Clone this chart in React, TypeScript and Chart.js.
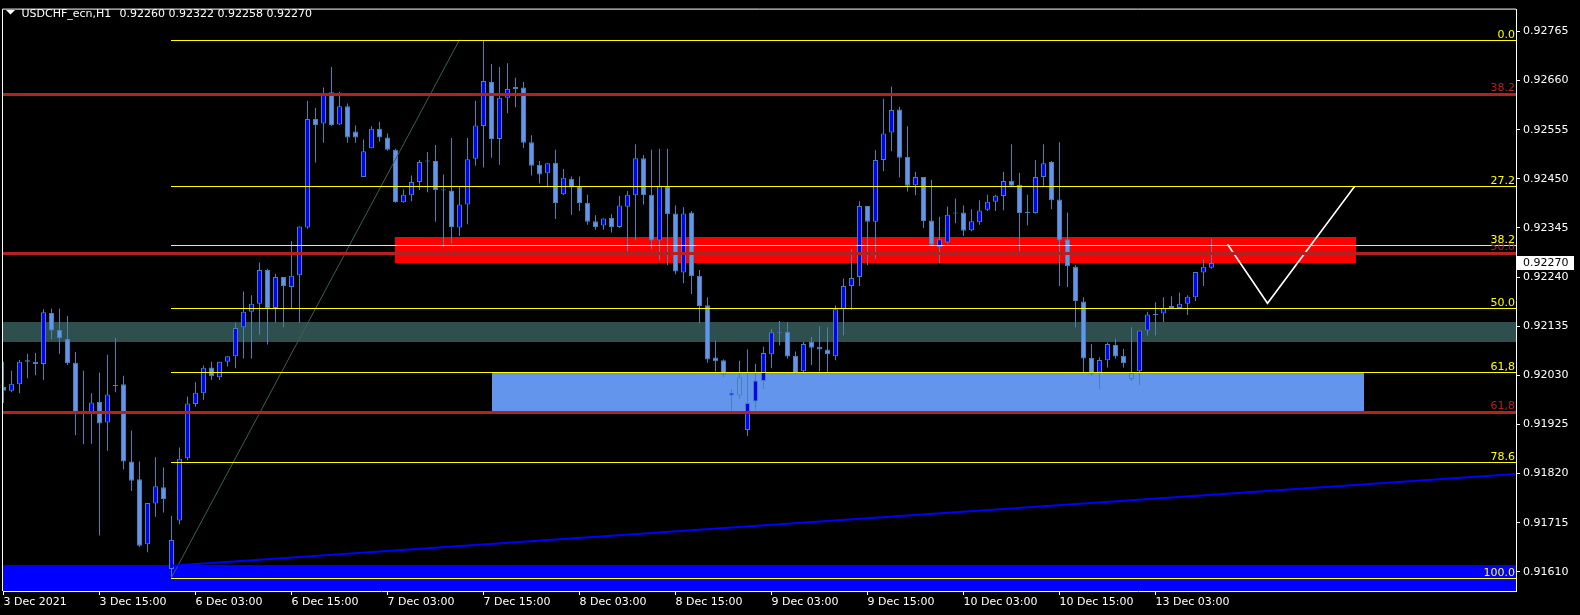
import React, { useEffect, useRef } from "react";
import { Chart, registerables } from "chart.js";

Chart.register(...registerables);

// ---------------- data ----------------
const SYMBOL = "USDCHF_ecn,H1";

const OPEN = [0.92005,0.91997,0.92011,0.92062,0.92059,0.92054,0.92163,0.92127,0.92108,0.92057,
0.91948,0.91948,0.91973,0.91929,0.92009,0.92011,0.91846,0.91808,0.91669,0.91756,
0.91791,0.91616,0.91720,0.91853,0.91969,0.91992,0.92047,0.92026,0.92059,0.92071,
0.92133,0.92166,0.92183,0.92255,0.92174,0.92240,0.92219,0.92244,0.92346,0.92578,
0.92568,0.92635,0.92566,0.92605,0.92551,0.92454,0.92515,0.92557,0.92538,0.92512,
0.92400,0.92415,0.92443,0.92488,0.92488,0.92426,0.92425,0.92346,0.92395,0.92493,
0.92563,0.92657,0.92535,0.92623,0.92642,0.92645,0.92528,0.92480,0.92462,0.92484,
0.92417,0.92450,0.92434,0.92399,0.92359,0.92350,0.92366,0.92347,0.92390,0.92415,
0.92494,0.92416,0.92318,0.92434,0.92376,0.92250,0.92378,0.92243,0.92180,0.92068,
0.92062,0.91987,0.92026,0.91913,0.91974,0.92018,0.92075,0.92121,0.92123,0.92072,
0.92039,0.92102,0.92091,0.92085,0.92071,0.92171,0.92221,0.92240,0.92392,0.92358,
0.92490,0.92549,0.92598,0.92497,0.92436,0.92454,0.92361,0.92304,0.92314,0.92378,
0.92378,0.92340,0.92357,0.92384,0.92401,0.92413,0.92446,0.92437,0.92378,0.92377,
0.92454,0.92486,0.92406,0.92321,0.92262,0.92188,0.92067,0.92036,0.92062,0.92095,
0.92072,0.92035,0.92039,0.92126,0.92161,0.92162,0.92178,0.92174,0.92183,0.92197,
0.92250,0.92260];

const HIGH = [0.92059,0.92040,0.92063,0.92076,0.92078,0.92171,0.92173,0.92173,0.92157,0.92080,
0.92040,0.91992,0.92036,0.92074,0.92110,0.92029,0.91912,0.91846,0.91757,0.91855,
0.91833,0.91730,0.91876,0.91985,0.92015,0.92051,0.92059,0.92059,0.92071,0.92142,
0.92209,0.92201,0.92271,0.92258,0.92247,0.92240,0.92317,0.92348,0.92617,0.92602,
0.92645,0.92689,0.92636,0.92611,0.92564,0.92534,0.92562,0.92572,0.92547,0.92514,
0.92427,0.92457,0.92490,0.92507,0.92522,0.92459,0.92537,0.92433,0.92537,0.92617,
0.92746,0.92695,0.92689,0.92697,0.92666,0.92657,0.92543,0.92488,0.92483,0.92512,
0.92471,0.92455,0.92455,0.92416,0.92372,0.92365,0.92374,0.92413,0.92424,0.92524,
0.92501,0.92512,0.92514,0.92514,0.92393,0.92389,0.92381,0.92255,0.92197,0.92104,
0.92064,0.92001,0.92061,0.92085,0.92055,0.92091,0.92129,0.92146,0.92144,0.92081,
0.92101,0.92112,0.92135,0.92133,0.92179,0.92237,0.92300,0.92402,0.92392,0.92511,
0.92621,0.92647,0.92604,0.92562,0.92465,0.92454,0.92448,0.92369,0.92391,0.92408,
0.92393,0.92385,0.92404,0.92416,0.92416,0.92465,0.92524,0.92463,0.92416,0.92490,
0.92524,0.92488,0.92528,0.92378,0.92265,0.92197,0.92097,0.92068,0.92100,0.92108,
0.92087,0.92133,0.92126,0.92166,0.92186,0.92197,0.92199,0.92207,0.92201,0.92251,
0.92278,0.92322];

const LOW = [0.91971,0.91994,0.91992,0.92024,0.92030,0.92020,0.92107,0.92076,0.92052,0.91902,
0.91883,0.91884,0.91688,0.91869,0.91994,0.91829,0.91783,0.91663,0.91652,0.91728,
0.91737,0.91598,0.91712,0.91849,0.91963,0.91978,0.92020,0.92020,0.92049,0.92045,
0.92066,0.92066,0.92117,0.92096,0.92143,0.92133,0.92174,0.92143,0.92343,0.92485,
0.92527,0.92563,0.92565,0.92527,0.92527,0.92454,0.92515,0.92529,0.92510,0.92399,
0.92399,0.92402,0.92426,0.92421,0.92358,0.92305,0.92312,0.92328,0.92353,0.92478,
0.92474,0.92495,0.92480,0.92590,0.92603,0.92516,0.92457,0.92440,0.92432,0.92364,
0.92415,0.92373,0.92381,0.92352,0.92341,0.92341,0.92335,0.92345,0.92295,0.92318,
0.92395,0.92300,0.92276,0.92265,0.92246,0.92227,0.92204,0.92142,0.92057,0.92038,
0.92026,0.91955,0.91980,0.91901,0.91957,0.92001,0.92045,0.92094,0.92066,0.92033,
0.92037,0.92052,0.92038,0.92034,0.92062,0.92115,0.92170,0.92221,0.92265,0.92279,
0.92466,0.92509,0.92453,0.92423,0.92415,0.92345,0.92307,0.92269,0.92312,0.92355,
0.92328,0.92338,0.92352,0.92381,0.92381,0.92383,0.92434,0.92295,0.92350,0.92376,
0.92435,0.92385,0.92221,0.92219,0.92132,0.92035,0.92028,0.91999,0.92047,0.92066,
0.92047,0.92018,0.92009,0.92115,0.92115,0.92144,0.92173,0.92173,0.92159,0.92189,
0.92221,0.92258];

const CLOSE = [0.91997,0.92012,0.92059,0.92059,0.92054,0.92165,0.92126,0.92109,0.92056,0.91947,
0.91947,0.91972,0.91927,0.91989,0.92007,0.91846,0.91805,0.91666,0.91757,0.91793,
0.91766,0.91678,0.91852,0.91970,0.91993,0.92046,0.92028,0.92059,0.92071,0.92131,
0.92166,0.92183,0.92255,0.92174,0.92240,0.92221,0.92243,0.92348,0.92578,0.92565,
0.92631,0.92565,0.92605,0.92538,0.92538,0.92509,0.92557,0.92538,0.92512,0.92400,
0.92416,0.92443,0.92486,0.92487,0.92426,0.92425,0.92347,0.92395,0.92492,0.92564,
0.92659,0.92535,0.92623,0.92642,0.92646,0.92527,0.92478,0.92459,0.92483,0.92398,
0.92452,0.92432,0.92398,0.92358,0.92347,0.92365,0.92347,0.92393,0.92416,0.92494,
0.92415,0.92318,0.92434,0.92374,0.92252,0.92376,0.92242,0.92178,0.92064,0.92060,
0.92032,0.91993,0.91987,0.91971,0.92019,0.92078,0.92122,0.92120,0.92070,0.92035,
0.92097,0.92089,0.92085,0.92075,0.92171,0.92221,0.92238,0.92392,0.92358,0.92490,
0.92547,0.92597,0.92495,0.92435,0.92454,0.92360,0.92309,0.92321,0.92373,0.92376,
0.92339,0.92359,0.92382,0.92401,0.92414,0.92445,0.92435,0.92377,0.92377,0.92454,
0.92483,0.92404,0.92318,0.92263,0.92189,0.92066,0.92033,0.92063,0.92097,0.92070,
0.92056,0.92022,0.92126,0.92160,0.92159,0.92174,0.92174,0.92183,0.92198,0.92251,
0.92262,0.92270];

const TIME_LABELS = ["3 Dec 2021","3 Dec 15:00","6 Dec 03:00","6 Dec 15:00","7 Dec 03:00",
  "7 Dec 15:00","8 Dec 03:00","8 Dec 15:00","9 Dec 03:00","9 Dec 15:00","10 Dec 03:00",
  "10 Dec 15:00","13 Dec 03:00"];
const TIME_LABEL_STEP = 12; // bars between time labels

const PRICE_TICKS = [0.92765,0.92660,0.92555,0.92450,0.92345,0.92240,0.92135,0.92030,
  0.91925,0.91820,0.91715,0.91610];

// visible range (bar index / price)
const X_MIN = -0.0625;
const X_MAX = 189.0625;
const Y_MIN = 0.915692;
const Y_MAX = 0.928115;

// Fibonacci retracement (yellow)
const FIB_START_BAR = 21;
const FIB_LEVELS = [0.92747,0.92435,0.92309,0.92173,0.92038,0.91845,0.91598];
const FIB_LABELS = ["0.0","27.2","38.2","50.0","61,8","78.6","100.0"];
const FIB_DIAGONAL = [{ x: 21, y: 0.91598 }, { x: 57, y: 0.92747 }];

// red horizontal levels
const RED_LEVELS = [0.92631,0.92292,0.91951];
const RED_LABELS = ["38.2","50.0","61,8"];

// trend line and projection
const TRENDLINE = [{ x: 21, y: 0.91623 }, { x: X_MAX, y: 0.91819 }];
const ZIGZAG = [{ x: 153, y: 0.92310 }, { x: 158, y: 0.92184 }, { x: 168.9, y: 0.92434 }];

// zones: [fromBar, toBar, topPrice, bottomPrice]
const ZONE_RED = [49, 169, 0.92326, 0.92270];
const ZONE_TEAL = [X_MIN, X_MAX, 0.92144, 0.92102];
const ZONE_SUPPORT = [61, 170, 0.92036, 0.91953];
const ZONE_BOTTOM = [X_MIN, X_MAX, 0.91624, Y_MIN];

// ---------------- colours ----------------
const BULL = "#0000FF";
const BEAR = "#6495ED";
const WICK = "#4682B4";
const YELLOW = "#FFFF00";
const FIRE = "#B22222";
const FONT = "DejaVu Sans";

export default function App() {
  const ref = useRef<HTMLCanvasElement>(null);

  useEffect(() => {
    document.body.style.margin = "0";
    document.body.style.background = "#000";
    const canvas = ref.current;
    if (!canvas) return;

    const idx = OPEN.map((_, i) => i);
    const n = OPEN.length;

    const bgPlugin = {
      id: "bg",
      beforeDraw(chart: any) {
        const c = chart.ctx;
        c.save();
        c.fillStyle = "#000";
        c.fillRect(0, 0, chart.width, chart.height);
        c.restore();
      },
    };

    const zones = [
      { z: ZONE_TEAL, color: "#2F4F4F" },
      { z: ZONE_BOTTOM, color: "#0000FF" },
      { z: ZONE_SUPPORT, color: "#6495ED" },
      { z: ZONE_RED, color: "#FF0000" },
    ];

    const zonePlugin = {
      id: "zones",
      beforeDatasetsDraw(chart: any) {
        const { ctx, chartArea: a, scales } = chart;
        const xs = scales.x, ys = scales.y;
        ctx.save();
        ctx.beginPath();
        ctx.rect(a.left, a.top, a.right - a.left, a.bottom - a.top);
        ctx.clip();
        for (const { z, color } of zones) {
          const x0 = Math.round(xs.getPixelForValue(z[0]));
          const x1 = Math.round(xs.getPixelForValue(z[1]));
          const y0 = Math.round(ys.getPixelForValue(z[2]));
          const y1 = Math.round(ys.getPixelForValue(z[3]));
          ctx.fillStyle = color;
          ctx.fillRect(x0, y0, x1 - x0, y1 - y0);
        }
        ctx.restore();
      },
    };

    // horizontal levels (pixel-snapped) + their labels, drawn over the candles
    const levelPlugin = {
      id: "levels",
      afterDatasetsDraw(chart: any) {
        const { ctx, chartArea: a, scales } = chart;
        const xs = scales.x, ys = scales.y;
        ctx.save();
        ctx.beginPath();
        ctx.rect(a.left, a.top, a.right - a.left, a.bottom - a.top);
        ctx.clip();
        RED_LEVELS.forEach((lv) => {
          const y = Math.round(ys.getPixelForValue(lv));
          ctx.fillStyle = FIRE;
          ctx.fillRect(a.left, y - 1, a.right - a.left, 3);
        });
        const fx = Math.round(xs.getPixelForValue(FIB_START_BAR)) - 1;
        FIB_LEVELS.forEach((lv) => {
          const y = Math.round(ys.getPixelForValue(lv));
          ctx.fillStyle = YELLOW;
          ctx.fillRect(fx, y, a.right - fx, 1);
        });
        ctx.font = `11px "${FONT}"`;
        ctx.textAlign = "right";
        ctx.textBaseline = "alphabetic";
        RED_LEVELS.forEach((lv, i) => {
          ctx.fillStyle = FIRE;
          ctx.fillText(RED_LABELS[i], a.right - 1, Math.round(ys.getPixelForValue(lv)) - 3);
        });
        FIB_LEVELS.forEach((lv, i) => {
          ctx.fillStyle = YELLOW;
          ctx.fillText(FIB_LABELS[i], a.right - 1, Math.round(ys.getPixelForValue(lv)) - 2);
        });
        ctx.restore();
      },
      afterDraw(chart: any) {
        const { ctx, chartArea: a, scales } = chart;
        const ys = scales.y;
        ctx.save();
        // frame (left & top)
        ctx.strokeStyle = "#FFFFFF";
        ctx.lineWidth = 1;
        ctx.beginPath();
        ctx.moveTo(a.left - 0.5, a.bottom);
        ctx.lineTo(a.left - 0.5, a.top - 0.5);
        ctx.lineTo(a.right, a.top - 0.5);
        ctx.stroke();
        // header
        ctx.fillStyle = "#FFFFFF";
        ctx.beginPath();
        ctx.moveTo(6, 10);
        ctx.lineTo(15, 10);
        ctx.lineTo(10.5, 14.5);
        ctx.closePath();
        ctx.fill();
        ctx.font = `11px "${FONT}"`;
        ctx.textAlign = "left";
        ctx.textBaseline = "alphabetic";
        ctx.fillText(SYMBOL, 21.5, 17);
        const last = n - 1;
        const ohlc = [OPEN[last], HIGH[last], LOW[last], CLOSE[last]].map((v) => v.toFixed(5)).join(" ");
        ctx.fillText(ohlc, 119.5, 17);
        // current price marker
        const py = Math.round(ys.getPixelForValue(CLOSE[last]));
        ctx.fillStyle = "#FFFFFF";
        ctx.fillRect(a.right + 1, py - 7, 57, 14);
        ctx.fillStyle = "#000000";
        ctx.textBaseline = "middle";
        ctx.fillText(CLOSE[last].toFixed(5), a.right + 7, py);
        ctx.restore();
      },
    };

    const lineDs = (data: any[], color: string, width: number) => ({
      type: "line" as const,
      data,
      borderColor: color,
      borderWidth: width,
      pointRadius: 0,
      fill: false,
      tension: 0,
      order: 0,
    });

    const datasets: any[] = [
      {
        type: "bar",
        data: idx.map((i) => ({ x: i, y: [LOW[i], HIGH[i]] })),
        backgroundColor: WICK,
        borderWidth: 0,
        barThickness: 1,
        grouped: false,
        inflateAmount: 0,
        order: 2,
      },
      {
        type: "bar",
        data: idx.map((i) => ({ x: i, y: [OPEN[i], CLOSE[i]] })),
        backgroundColor: idx.map((i) => (CLOSE[i] > OPEN[i] ? BULL : BEAR)),
        borderColor: WICK,
        borderWidth: 1,
        borderSkipped: false,
        barThickness: 5,
        minBarLength: 1,
        grouped: false,
        inflateAmount: 0,
        order: 1,
      },
      lineDs(TRENDLINE, "#0000FF", 2),
      lineDs(FIB_DIAGONAL, "#3B5F57", 1),
      lineDs(ZIGZAG, "#FFFFFF", 1.6),
    ];

    const tickFont = { family: FONT, size: 11 };

    const chart = new Chart(canvas, {
      type: "bar",
      data: { datasets },
      options: {
        responsive: false,
        animation: false,
        devicePixelRatio: 1,
        events: [],
        layout: { padding: { left: 3, top: 3, right: 0, bottom: 0 } },
        plugins: { legend: { display: false }, tooltip: { enabled: false } },
        scales: {
          x: {
            type: "linear",
            min: X_MIN,
            max: X_MAX,
            offset: false,
            bounds: "data",
            grid: { display: true, drawOnChartArea: false, drawTicks: true, tickLength: 4, color: "#FFFFFF", offset: false },
            border: { display: true, color: "#FFFFFF" },
            ticks: {
              color: "#FFFFFF",
              font: tickFont,
              align: "start",
              padding: 1,
              autoSkip: false,
              maxRotation: 0,
              callback: (_v: any, i: number) => TIME_LABELS[i],
            },
            afterBuildTicks: (s: any) => {
              s.ticks = TIME_LABELS.map((_, j) => ({ value: j * TIME_LABEL_STEP }));
            },
            afterFit: (s: any) => {
              s.height = 24;
            },
          },
          y: {
            type: "linear",
            position: "right",
            min: Y_MIN,
            max: Y_MAX,
            beginAtZero: false,
            bounds: "data",
            grid: { display: true, drawOnChartArea: false, drawTicks: true, tickLength: 4, color: "#FFFFFF" },
            border: { display: true, color: "#FFFFFF" },
            ticks: {
              color: "#FFFFFF",
              font: tickFont,
              padding: 3,
              autoSkip: false,
              callback: (v: any) => Number(v).toFixed(5),
            },
            afterBuildTicks: (s: any) => {
              s.ticks = PRICE_TICKS.map((v) => ({ value: v }));
            },
            afterFit: (s: any) => {
              s.width = 64;
            },
          },
        },
      } as any,
      plugins: [bgPlugin, zonePlugin, levelPlugin],
    });

    return () => chart.destroy();
  }, []);

  return (
    <canvas
      ref={ref}
      width={1580}
      height={615}
      style={{ display: "block", width: 1580, height: 615 }}
    />
  );
}
